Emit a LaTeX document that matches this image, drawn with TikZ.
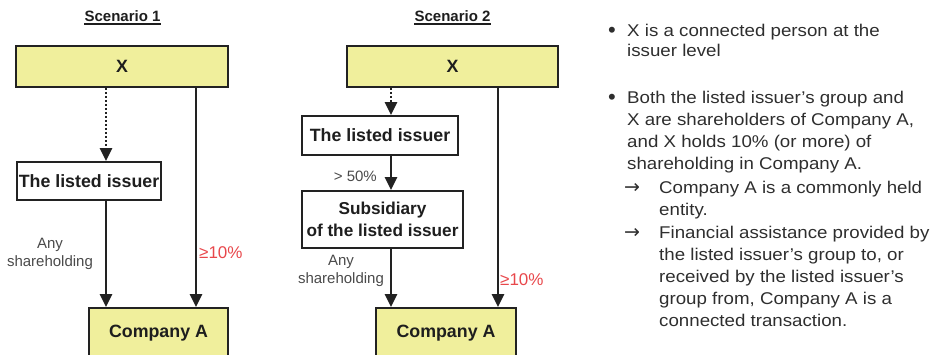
\documentclass[tikz,border=0pt]{standalone}
\usepackage{fontspec}
\setmainfont{Liberation Sans}
\newfontfamily\widefont[FakeStretch=1.1]{Liberation Sans}
\newfontfamily\symfont{DejaVu Sans}
\usetikzlibrary{arrows.meta}
\definecolor{boxyellow}{HTML}{F0EF9C}
\definecolor{boxline}{HTML}{222222}
\definecolor{textdark}{HTML}{1E1E1E}
\definecolor{textgray}{HTML}{4A4A4A}
\definecolor{textbody}{HTML}{2E2E2E}
\definecolor{redlbl}{HTML}{E8474B}
\begin{document}
\begin{tikzpicture}[x=1pt,y=-1pt,
  box/.style={draw=boxline, line width=1.9pt, inner sep=0pt, fill=white,
    font=\fontsize{17.8}{22}\selectfont\bfseries, text=textdark, align=center},
  ybox/.style={box, fill=boxyellow},
  conn/.style={line width=2.8pt, draw=boxline, -{Triangle[width=12pt,length=13pt]}},
  dotconn/.style={conn, line width=2.4pt, dash pattern=on 2pt off 2pt},
  title/.style={font=\fontsize{15}{18}\selectfont\bfseries, text=textdark, inner sep=0pt},
  lbl/.style={font=\fontsize{15}{17.5}\selectfont, text=textgray, inner sep=0pt, align=center},
  redl/.style={font=\fontsize{17}{18}\selectfont, text=redlbl, inner sep=0pt},
  body/.style={font=\widefont\fontsize{17}{20}\selectfont, text=textbody, inner sep=0pt, anchor=base west},
  bul/.style={font=\fontsize{22}{20}\selectfont, text=textbody, inner sep=0pt, anchor=base west},
  sym/.style={font=\symfont\fontsize{19}{20}\selectfont, text=textbody, inner sep=0pt, anchor=base west}
]
\useasboundingbox (0,0) rectangle (934,354);
\clip (0,0) rectangle (934,354);

% ---------- Scenario 1 ----------
\node[title, anchor=base] (t1) at (122.5,21) {Scenario 1};
\draw[line width=1.6pt, textdark] (t1.base west) ++(0,2.8) -- ([yshift=-2.8pt]t1.base east);
\node[ybox, minimum width=212pt, minimum height=41pt] (X1) at (122,66.5) {X};
\node[box, minimum width=144pt, minimum height=38pt] (L1) at (89,181) {The listed issuer};
\node[ybox, minimum width=139pt, minimum height=50pt] (A1) at (158.5,333) {Company A};
\coordinate (c1) at (106,0);
\coordinate (c2) at (196,0);
\draw[dotconn] (c1 |- X1.south) -- (c1 |- L1.north);
\draw[conn] (c1 |- L1.south) -- (c1 |- A1.north);
\draw[conn] (c2 |- X1.south) -- (c2 |- A1.north);
\node[lbl] (any1) at (50,254) {Any\\shareholding};
\node[redl, anchor=base west] (r1) at (199,258) {≥10\%};

% ---------- Scenario 2 ----------
\node[title, anchor=base] (t2) at (452.5,21) {Scenario 2};
\draw[line width=1.6pt, textdark] (t2.base west) ++(0,2.8) -- ([yshift=-2.8pt]t2.base east);
\node[ybox, minimum width=211pt, minimum height=41pt] (X2) at (452.5,66.5) {X};
\node[box, minimum width=156pt, minimum height=39pt] (L2) at (380,135.5) {The listed issuer};
\node[box, minimum width=161pt, minimum height=57pt, font=\fontsize{17.2}{22}\selectfont\bfseries] (S2) at (382.5,219.5) {Subsidiary\\of the listed issuer};
\node[ybox, minimum width=140pt, minimum height=50pt] (A2) at (446,333) {Company A};
\coordinate (c3) at (391,0);
\coordinate (c4) at (498,0);
\draw[dotconn] (c3 |- X2.south) -- (c3 |- L2.north);
\draw[conn] (c3 |- L2.south) -- (c3 |- S2.north);
\draw[conn] (c3 |- S2.south) -- (c3 |- A2.north);
\draw[conn] (c4 |- X2.south) -- (c4 |- A2.north);
\node[lbl, anchor=base east] (p50) at (377,181) {> 50\%};
\node[lbl] (any2) at (341,271) {Any\\shareholding};
\node[redl, anchor=base west] (r2) at (500,285) {≥10\%};

% ---------- Notes ----------
\node[bul] (b1) at (608,37) {•};
\node[body] (n1) at (627,36) {X is a connected person at the};
\node[body] (n2) at (627,56) {issuer level};
\node[bul] (b2) at (608,104) {•};
\node[body] (n3) at (627,103) {Both the listed issuer’s group and};
\node[body] (n4) at (627,125) {X are shareholders of Company A,};
\node[body] (n5) at (627,147) {and X holds 10\% (or more) of};
\node[body] (n6) at (627,169) {shareholding in Company A.};
\node[sym] (a1) at (624,193) {→};
\node[body] (n7) at (659,193) {Company A is a commonly held};
\node[body] (n8) at (659,215) {entity.};
\node[sym] (a2) at (624,238) {→};
\node[body] (n9) at (659,238) {Financial assistance provided by};
\node[body] (n10) at (659,260) {the listed issuer’s group to, or};
\node[body] (n11) at (659,282) {received by the listed issuer’s};
\node[body] (n12) at (659,304) {group from, Company A is a};
\node[body] (n13) at (659,326) {connected transaction.};
\end{tikzpicture}
\end{document}
